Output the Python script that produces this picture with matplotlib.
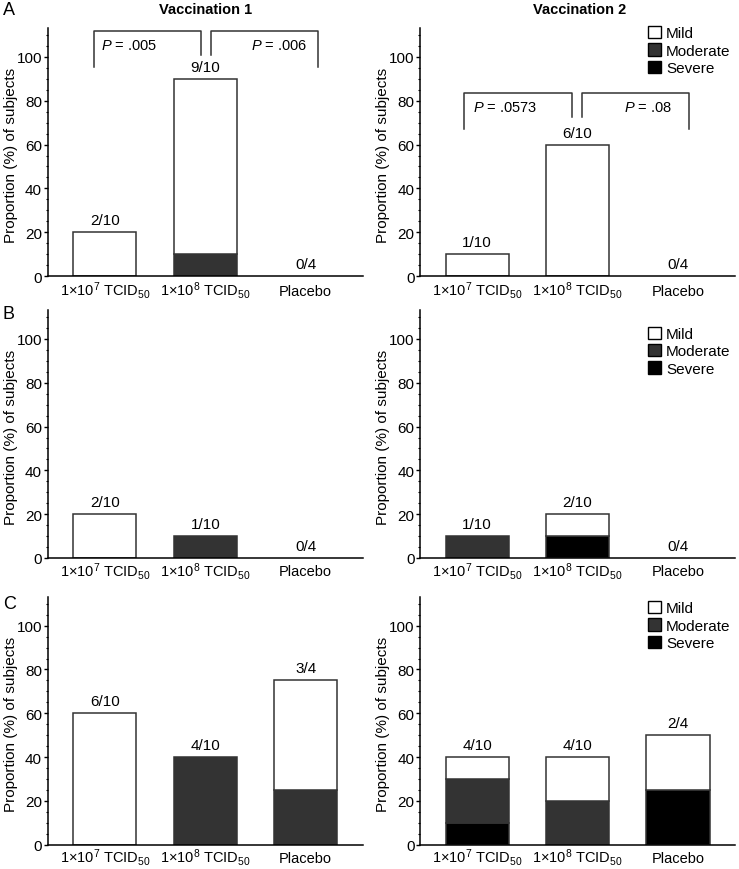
import numpy as np
import matplotlib
matplotlib.use("Agg")
import matplotlib.pyplot as plt
from matplotlib.patches import Patch
from matplotlib.ticker import MultipleLocator

plt.rcParams["font.family"] = ["Liberation Sans", "DejaVu Sans"]
plt.rcParams["mathtext.fontset"] = "custom"
plt.rcParams["mathtext.rm"] = "Liberation Sans"
plt.rcParams["mathtext.it"] = "Liberation Sans:italic"
plt.rcParams["mathtext.default"] = "regular"

# ---------------- data ----------------
groups = ["1×10$^{7}$ TCID$_{50}$", "1×10$^{8}$ TCID$_{50}$", "Placebo"]
levels = ["Mild", "Moderate", "Severe"]

# panel key: (row, vaccination)
mild = {
    ("A", 1): [20, 80, 0], ("A", 2): [10, 60, 0],
    ("B", 1): [20, 0, 0],  ("B", 2): [0, 10, 0],
    ("C", 1): [60, 0, 50], ("C", 2): [10, 20, 25],
}
moderate = {
    ("A", 1): [0, 10, 0], ("A", 2): [0, 0, 0],
    ("B", 1): [0, 10, 0], ("B", 2): [10, 0, 0],
    ("C", 1): [0, 40, 25], ("C", 2): [20, 20, 0],
}
severe = {
    ("A", 1): [0, 0, 0], ("A", 2): [0, 0, 0],
    ("B", 1): [0, 0, 0], ("B", 2): [0, 10, 0],
    ("C", 1): [0, 0, 0], ("C", 2): [10, 0, 25],
}
counts = {
    ("A", 1): ["2/10", "9/10", "0/4"], ("A", 2): ["1/10", "6/10", "0/4"],
    ("B", 1): ["2/10", "1/10", "0/4"], ("B", 2): ["1/10", "2/10", "0/4"],
    ("C", 1): ["6/10", "4/10", "3/4"], ("C", 2): ["4/10", "4/10", "2/4"],
}
p_values = {("A", 1): [".005", ".006"], ("A", 2): [".0573", ".08"]}

# ---------------- style ----------------
COLORS = {"Mild": "white", "Moderate": "#333333", "Severe": "black"}
EDGE = "#333333"

fig = plt.figure(figsize=(7.39, 8.70), dpi=100)

rows = ["A", "B", "C"]
bottoms = {"A": 0.6816, "B": 0.3575, "C": 0.0279}
lefts = {1: 0.0645, 2: 0.5683}
W, H = 0.4265, 0.2845
legend_y = {"A": 1.01, "B": 0.935, "C": 0.985}
xpad = {"A": 13.7, "B": 12.6, "C": 12.4}   # axis -> baseline of x labels

x = np.arange(3)
for r in rows:
    for v in (1, 2):
        key = (r, v)
        ax = fig.add_axes([lefts[v], bottoms[r], W, H])
        sev = np.array(severe[key])
        mod = np.array(moderate[key])
        mil = np.array(mild[key])
        base = np.zeros(3)
        for vals, lev in ((sev, "Severe"), (mod, "Moderate"), (mil, "Mild")):
            ax.bar(x, vals, bottom=base, width=0.63, color=COLORS[lev], edgecolor=EDGE,
                   linewidth=np.where(vals > 0, 1.1, 0))
            base = base + vals
        for xi, t, lab in zip(x, base, counts[key]):
            ax.text(xi, t + 5.5, lab, ha="center", va="center", fontsize=11)

        ax.set_xlim(-0.57, 2.57)
        ax.set_ylim(0, 113)
        ax.set_yticks([0, 20, 40, 60, 80, 100])
        ax.yaxis.set_minor_locator(MultipleLocator(5))
        ax.set_xticks(x)
        ax.set_xticklabels(groups, fontsize=10.5, va="baseline")
        ax.tick_params(axis="x", length=0, pad=xpad[r])
        ax.tick_params(axis="y", which="major", length=3.2, width=1, labelsize=11, pad=0.8)
        ax.tick_params(axis="y", which="minor", length=1.8, width=0.8)
        ax.spines["top"].set_visible(False)
        ax.spines["right"].set_visible(False)
        ax.spines["left"].set_linewidth(1.1)
        ax.spines["bottom"].set_linewidth(1.1)
        ax.set_ylabel("Proportion (%) of subjects", fontsize=11)
        ax.yaxis.set_label_coords(-0.095, 0.49)

        if key in p_values:
            p1, p2 = p_values[key]
            if v == 1:
                top, low, mid = 112, 95.4, 100.7
                xs = [-0.113, 0.953, 1.06, 2.127]
                ty = 105.6
                tx = [0.24, 1.74]
            else:
                top, low, mid = 83.5, 66.9, 72.6
                xs = [-0.127, 0.94, 1.043, 2.11]
                ty = 77.1
                tx = [0.28, 1.70]
            lk = dict(color="#333333", lw=1.1, clip_on=False)
            ax.plot([xs[0], xs[0], xs[1], xs[1]], [low, top, top, mid], **lk)
            ax.plot([xs[2], xs[2], xs[3], xs[3]], [mid, top, top, low], **lk)
            ax.text(tx[0], ty, f"$\\it{{P}}$ = {p1}", ha="center", va="center", fontsize=10.5)
            ax.text(tx[1], ty, f"$\\it{{P}}$ = {p2}", ha="center", va="center", fontsize=10.5)

        if v == 2:
            handles = [Patch(facecolor=COLORS[l], edgecolor="black", linewidth=1.0, label=l) for l in levels]
            ax.legend(handles=handles, loc="upper left", bbox_to_anchor=(0.725, legend_y[r]),
                      frameon=False, fontsize=11, handlelength=0.85, handleheight=0.85,
                      handletextpad=0.3, labelspacing=0.2, borderaxespad=0, borderpad=0)

# panel letters and column titles
fig.text(0.004, 0.988, "A", fontsize=13, va="center", ha="left")
fig.text(0.004, 0.638, "B", fontsize=13, va="center", ha="left")
fig.text(0.004, 0.305, "C", fontsize=13, va="center", ha="left")
fig.text(0.278, 0.988, "Vaccination 1", fontsize=10.5, fontweight="bold", ha="center", va="center")
fig.text(0.785, 0.988, "Vaccination 2", fontsize=10.5, fontweight="bold", ha="center", va="center")

fig.savefig("out.png", dpi=100)
